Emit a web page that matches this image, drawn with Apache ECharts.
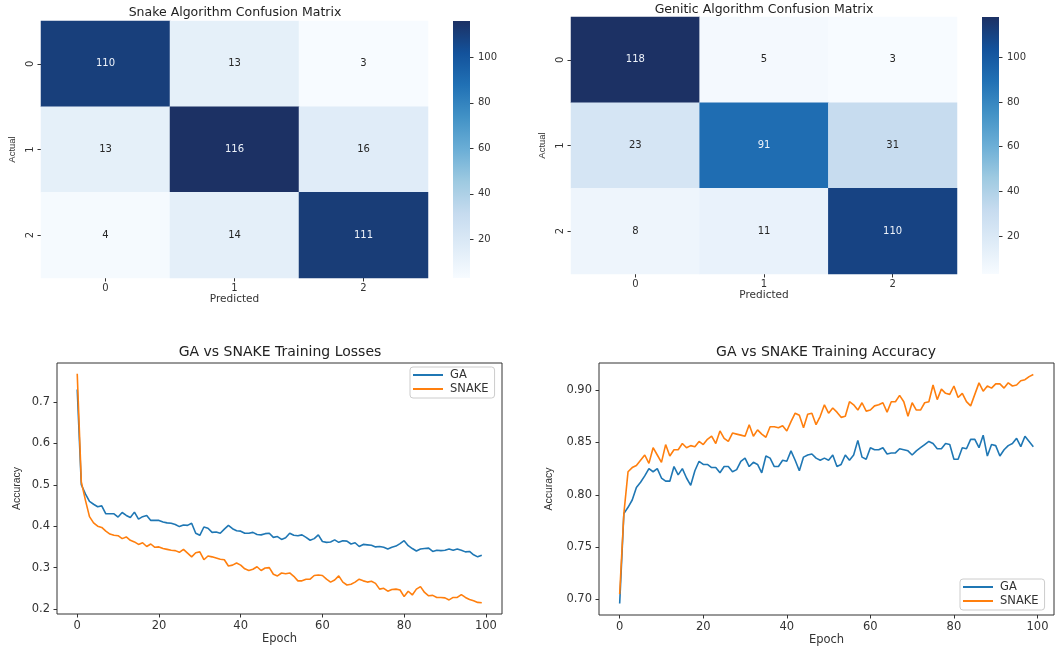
<!DOCTYPE html>
<html>
<head>
<meta charset="utf-8">
<title>GA vs SNAKE</title>
<script src="https://cdn.jsdelivr.net/npm/echarts@6/dist/echarts.min.js"></script>
<style>
  html, body { margin: 0; padding: 0; background: #fff; }
  #chart { width: 1055px; height: 646px; }
</style>
</head>
<body>
<div id="chart"></div>
<script>
// confusion matrices: rows = actual, cols = predicted
const classLabels = ["0", "1", "2"];
const snakeMatrix = [[110, 13, 3], [13, 116, 16], [4, 14, 111]];
const gaMatrix = [[118, 5, 3], [23, 91, 31], [8, 11, 110]];
const snakeRange = [3, 116];
const gaRange = [3, 118];
const colorbarTicks = [20, 40, 60, 80, 100];

// training curves (one value per epoch, 0..99)
const epochTicks = [0, 20, 40, 60, 80, 100];
const lossTicks = [0.2, 0.3, 0.4, 0.5, 0.6, 0.7];
const accTicks = [0.70, 0.75, 0.80, 0.85, 0.90];

const gaLoss = [0.73, 0.50, 0.478, 0.46, 0.453, 0.447, 0.449, 0.43, 0.43, 0.43,
  0.422, 0.433, 0.426, 0.421, 0.434, 0.417, 0.423, 0.426, 0.414, 0.414,
  0.414, 0.41, 0.408, 0.407, 0.404, 0.399, 0.403, 0.402, 0.407, 0.383,
  0.378, 0.398, 0.395, 0.385, 0.386, 0.383, 0.393, 0.402, 0.394, 0.389,
  0.388, 0.383, 0.383, 0.385, 0.38, 0.379, 0.382, 0.383, 0.373, 0.375,
  0.368, 0.372, 0.383, 0.378, 0.377, 0.379, 0.373, 0.366, 0.37, 0.379,
  0.363, 0.361, 0.362, 0.367, 0.361, 0.365, 0.364, 0.357, 0.36, 0.351,
  0.356, 0.355, 0.354, 0.35, 0.351, 0.349, 0.345, 0.349, 0.352, 0.358,
  0.365, 0.353, 0.346, 0.34, 0.345, 0.346, 0.347, 0.339, 0.342, 0.341,
  0.342, 0.345, 0.342, 0.345, 0.342, 0.338, 0.339, 0.331, 0.326, 0.33];

const snakeLoss = [0.768, 0.507, 0.463, 0.423, 0.408, 0.4, 0.397, 0.388, 0.381, 0.378,
  0.377, 0.37, 0.374, 0.366, 0.362, 0.356, 0.36, 0.351, 0.357, 0.349,
  0.35, 0.346, 0.344, 0.342, 0.341, 0.337, 0.344, 0.335, 0.326, 0.336,
  0.338, 0.319, 0.328, 0.326, 0.323, 0.32, 0.319, 0.304, 0.306, 0.311,
  0.306, 0.297, 0.293, 0.296, 0.302, 0.293, 0.299, 0.3, 0.284, 0.28,
  0.287, 0.285, 0.287, 0.279, 0.268, 0.268, 0.272, 0.272, 0.281, 0.282,
  0.281, 0.272, 0.265, 0.27, 0.28, 0.265, 0.258, 0.26, 0.265, 0.272,
  0.268, 0.265, 0.267, 0.262, 0.248, 0.25, 0.243, 0.247, 0.248, 0.246,
  0.23, 0.243, 0.234, 0.248, 0.254, 0.24, 0.232, 0.233, 0.228, 0.228,
  0.227, 0.222, 0.228, 0.228, 0.235, 0.228, 0.223, 0.22, 0.216, 0.215];

const gaAcc = [0.696, 0.782, 0.788, 0.795, 0.807, 0.812, 0.818, 0.825, 0.822, 0.825,
  0.816, 0.813, 0.813, 0.827, 0.819, 0.825, 0.816, 0.809, 0.823, 0.832,
  0.829, 0.829, 0.826, 0.826, 0.821, 0.827, 0.827, 0.822, 0.824, 0.832,
  0.835, 0.827, 0.831, 0.829, 0.821, 0.837, 0.835, 0.827, 0.827, 0.833,
  0.832, 0.842, 0.833, 0.823, 0.836, 0.838, 0.839, 0.835, 0.833, 0.835,
  0.833, 0.838, 0.827, 0.829, 0.838, 0.833, 0.838, 0.852, 0.836, 0.834,
  0.845, 0.843, 0.843, 0.845, 0.839, 0.84, 0.84, 0.844, 0.843, 0.842,
  0.838, 0.842, 0.845, 0.848, 0.851, 0.849, 0.844, 0.844, 0.849, 0.848,
  0.834, 0.834, 0.845, 0.844, 0.853, 0.853, 0.845, 0.857, 0.837, 0.848,
  0.847, 0.837, 0.843, 0.847, 0.849, 0.854, 0.846, 0.856, 0.851, 0.846];

const snakeAcc = [0.705, 0.782, 0.822, 0.826, 0.828, 0.833, 0.838, 0.83, 0.845, 0.838,
  0.831, 0.848, 0.837, 0.843, 0.843, 0.849, 0.845, 0.847, 0.846, 0.851,
  0.848, 0.853, 0.856, 0.849, 0.861, 0.854, 0.851, 0.859, 0.858, 0.857,
  0.856, 0.867, 0.856, 0.862, 0.858, 0.855, 0.865, 0.865, 0.864, 0.866,
  0.861, 0.87, 0.878, 0.876, 0.864, 0.877, 0.878, 0.867, 0.875, 0.886,
  0.878, 0.883, 0.879, 0.874, 0.875, 0.889, 0.886, 0.881, 0.888, 0.88,
  0.881, 0.885, 0.886, 0.888, 0.879, 0.889, 0.889, 0.895, 0.889, 0.875,
  0.888, 0.881, 0.881, 0.888, 0.889, 0.905, 0.891, 0.901, 0.897, 0.896,
  0.904, 0.893, 0.897, 0.889, 0.885, 0.896, 0.907, 0.899, 0.904, 0.902,
  0.906, 0.906, 0.902, 0.907, 0.904, 0.905, 0.909, 0.91, 0.913, 0.915];

// "Blues" ramp, dark end toned to the picture
const blues = ["#f7fbff", "#deebf7", "#c6dbef", "#9ecae1", "#6baed6", "#4292c6", "#2171b5", "#13529b", "#1c3164"];
const FONT = "DejaVu Sans";
const TXT = "#333";

const chart = echarts.init(document.getElementById("chart"));

function heatData(matrix) {
  // [predicted, actual, count]
  return matrix.flatMap((row, r) => row.map((v, c) => ({
    value: [c, r, v],
    label: { color: v > 60 ? "#eef3fa" : "#262626" }
  })));
}

function toPairs(arr) {
  return arr.map((v, i) => [i, v]);
}

function colorbarItem(params, api) {
  const lo = api.coord([0, api.value(1)]);
  const hi = api.coord([0, api.value(2)]);
  const w = api.size([1, 0])[0];
  return {
    type: "rect",
    shape: { x: lo[0] - w / 2, y: hi[1], width: w, height: lo[1] - hi[1] },
    style: {
      fill: new echarts.graphic.LinearGradient(0, 1, 0, 0,
        blues.map((c, i) => ({ offset: i / (blues.length - 1), color: c })))
    }
  };
}

const tickStyle = { length: 3.5, lineStyle: { color: "#333", width: 1 } };
const noLine = { show: false, onZero: false };

function heatX(gridIndex) {
  return {
    type: "category", gridIndex: gridIndex, data: classLabels,
    name: "Predicted", nameLocation: "middle", nameGap: 16,
    nameTextStyle: { fontFamily: FONT, fontSize: 10.5, color: TXT },
    axisLine: noLine,
    axisTick: Object.assign({ show: true, alignWithLabel: true }, tickStyle),
    axisLabel: { margin: 5, fontFamily: FONT, fontSize: 10, color: TXT },
    splitLine: { show: false }
  };
}

function heatY(gridIndex) {
  return {
    type: "category", gridIndex: gridIndex, data: classLabels, inverse: true,
    name: "Actual", nameLocation: "middle", nameGap: 24,
    nameTextStyle: { fontFamily: "Liberation Sans", fontSize: 9.5, color: TXT },
    axisLine: noLine,
    axisTick: Object.assign({ show: true, alignWithLabel: true }, tickStyle),
    axisLabel: { rotate: 90, margin: 6, fontFamily: FONT, fontSize: 10, color: TXT },
    splitLine: { show: false }
  };
}

function barX(gridIndex) {
  return { type: "category", gridIndex: gridIndex, data: ["c"], show: false };
}

function barY(gridIndex, range) {
  return {
    type: "value", gridIndex: gridIndex, position: "right", offset: 0,
    min: range[0], max: range[1],
    axisLine: noLine,
    axisTick: Object.assign({ show: true, customValues: colorbarTicks }, tickStyle),
    axisLabel: { customValues: colorbarTicks, margin: 8, fontFamily: FONT, fontSize: 10, color: TXT },
    splitLine: { show: false }
  };
}

function epochX(gridIndex) {
  return {
    type: "value", gridIndex: gridIndex, min: -4.95, max: 103.95,
    name: "Epoch", nameLocation: "middle", nameGap: 18,
    nameTextStyle: { fontFamily: FONT, fontSize: 11.5, color: TXT },
    axisLine: noLine,
    axisTick: Object.assign({ show: true, customValues: epochTicks }, tickStyle),
    axisLabel: { customValues: epochTicks, margin: 6, fontFamily: FONT, fontSize: 11.5, color: TXT },
    splitLine: { show: false }
  };
}

function metricY(gridIndex, min, max, ticks, digits, gap) {
  return {
    type: "value", gridIndex: gridIndex, min: min, max: max,
    name: "Accuracy", nameLocation: "middle", nameGap: gap,
    nameTextStyle: { fontFamily: "Liberation Sans", fontSize: 10.5, color: TXT },
    axisLine: noLine,
    axisTick: Object.assign({ show: true, customValues: ticks }, tickStyle),
    axisLabel: {
      customValues: ticks, margin: 7, fontFamily: FONT, fontSize: 11.5, color: TXT,
      formatter: v => v.toFixed(digits)
    },
    splitLine: { show: false }
  };
}

function lineSeries(name, data, color, axis) {
  return {
    name: name, type: "line", xAxisIndex: axis, yAxisIndex: axis,
    data: toPairs(data), showSymbol: false, symbol: "none",
    lineStyle: { color: color, width: 1.6 }, itemStyle: { color: color }
  };
}

function legendBox(left, top) {
  return {
    data: ["GA", "SNAKE"], orient: "vertical", left: left, top: top,
    icon: "rect", itemWidth: 30, itemHeight: 2, itemGap: 2,
    padding: [2, 6, 3, 3],
    backgroundColor: "rgba(255,255,255,0.9)", borderColor: "#cccccc", borderWidth: 1, borderRadius: 3,
    textStyle: { fontFamily: FONT, fontSize: 11.5, color: TXT, padding: [0, 0, 0, 2] },
    selectedMode: false
  };
}

function titleAt(text, x, y, size) {
  return {
    text: text, left: x, top: y, textAlign: "center", padding: 0,
    textStyle: { fontFamily: FONT, fontSize: size, fontWeight: "normal", color: "#222" }
  };
}

function gridAt(left, top, width, height, framed) {
  const g = { left: left, top: top, width: width, height: height, containLabel: false, outerBoundsMode: "none" };
  if (framed) {
    g.show = true;
    g.borderColor = "#333";
    g.borderWidth = 1;
  }
  return g;
}

chart.setOption({
  animation: false,
  backgroundColor: "#fff",
  title: [
    titleAt("Snake Algorithm Confusion Matrix", 235, 6, 12.5),
    titleAt("Genitic Algorithm Confusion Matrix", 764, 3, 12.5),
    titleAt("GA vs SNAKE Training Losses", 280, 345, 14),
    titleAt("GA vs SNAKE Training Accuracy", 826, 345, 14)
  ],
  grid: [
    gridAt(41, 21, 387, 257, false),
    gridAt(453, 21, 17, 257, false),
    gridAt(571, 17, 386, 257, false),
    gridAt(982, 17, 17, 257, false),
    gridAt(57, 363, 445, 251, true),
    gridAt(599, 363, 455, 252, true)
  ],
  xAxis: [heatX(0), barX(1), heatX(2), barX(3), epochX(4), epochX(5)],
  yAxis: [
    heatY(0), barY(1, snakeRange), heatY(2), barY(3, gaRange),
    metricY(4, 0.188, 0.794, lossTicks, 1, 34),
    metricY(5, 0.685, 0.926, accTicks, 2, 44)
  ],
  visualMap: [
    { type: "continuous", show: false, seriesIndex: 0, min: snakeRange[0], max: snakeRange[1], inRange: { color: blues } },
    { type: "continuous", show: false, seriesIndex: 1, min: gaRange[0], max: gaRange[1], inRange: { color: blues } }
  ],
  legend: [legendBox(410, 367), legendBox(960, 579)],
  series: [
    {
      type: "heatmap", xAxisIndex: 0, yAxisIndex: 0, data: heatData(snakeMatrix),
      label: { show: true, fontFamily: FONT, fontSize: 10 },
      emphasis: { disabled: true }
    },
    {
      type: "heatmap", xAxisIndex: 2, yAxisIndex: 2, data: heatData(gaMatrix),
      label: { show: true, fontFamily: FONT, fontSize: 10 },
      emphasis: { disabled: true }
    },
    {
      type: "custom", xAxisIndex: 1, yAxisIndex: 1, renderItem: colorbarItem,
      data: [[0, snakeRange[0], snakeRange[1]]], encode: { x: 0, y: [1, 2] }, silent: true
    },
    {
      type: "custom", xAxisIndex: 3, yAxisIndex: 3, renderItem: colorbarItem,
      data: [[0, gaRange[0], gaRange[1]]], encode: { x: 0, y: [1, 2] }, silent: true
    },
    lineSeries("GA", gaLoss, "#1f77b4", 4),
    lineSeries("SNAKE", snakeLoss, "#ff7f0e", 4),
    lineSeries("GA", gaAcc, "#1f77b4", 5),
    lineSeries("SNAKE", snakeAcc, "#ff7f0e", 5)
  ]
});
</script>
</body>
</html>
